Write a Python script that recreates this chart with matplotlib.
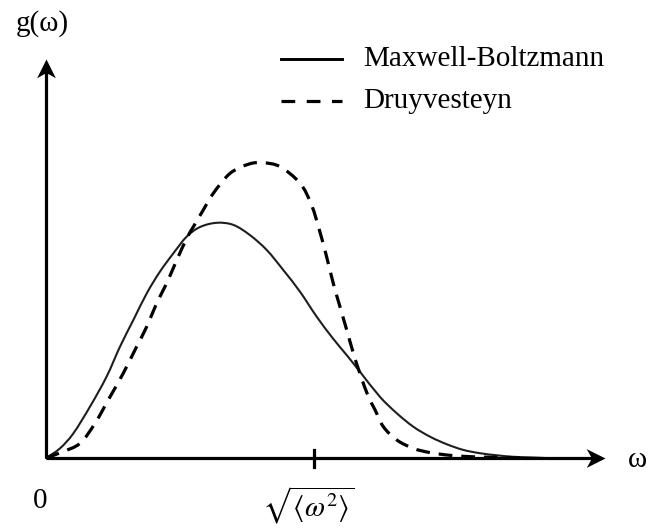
import matplotlib
matplotlib.use("Agg")
import numpy as np
import matplotlib.pyplot as plt
from matplotlib.path import Path
from matplotlib.patches import PathPatch

plt.rcParams['font.family'] = ['Liberation Serif', 'DejaVu Serif']
plt.rcParams['mathtext.fontset'] = 'stix'

# Speed in units of the rms speed, distribution in arbitrary units
mb_w = [0, 0.052, 0.102, 0.164, 0.226, 0.276, 0.326, 0.376, 0.425, 0.475,
        0.525, 0.575, 0.637, 0.699, 0.761, 0.824, 0.885, 0.948, 1.010, 1.072,
        1.122, 1.172, 1.246, 1.309, 1.371, 1.433, 1.495, 1.557, 1.619, 1.682,
        1.744, 1.806, 1.862]
mb_g = [0, 0.032, 0.082, 0.171, 0.271, 0.371, 0.460, 0.549, 0.621, 0.682,
        0.738, 0.770, 0.784, 0.777, 0.743, 0.693, 0.627, 0.554, 0.471, 0.397,
        0.343, 0.287, 0.204, 0.149, 0.104, 0.071, 0.046, 0.027, 0.016, 0.009,
        0.004, 0.002, 0]

dr_w = [0, 0.060, 0.127, 0.183, 0.239, 0.288, 0.338, 0.376, 0.413, 0.450,
        0.488, 0.525, 0.550, 0.587, 0.624, 0.687, 0.758, 0.811, 0.873, 0.948,
        0.991, 1.022, 1.047, 1.072, 1.097, 1.122, 1.147, 1.172, 1.203, 1.228,
        1.259, 1.309, 1.371, 1.433, 1.507, 1.594, 1.682, 1.769]
dr_g = [0, 0.020, 0.049, 0.116, 0.204, 0.282, 0.371, 0.438, 0.516, 0.582,
        0.660, 0.732, 0.771, 0.827, 0.882, 0.949, 0.980, 0.984, 0.971, 0.916,
        0.843, 0.754, 0.671, 0.582, 0.504, 0.427, 0.349, 0.280, 0.204, 0.160,
        0.104, 0.060, 0.032, 0.018, 0.009, 0.004, 0.002, 0]

series_names = ['Maxwell-Boltzmann', 'Druyvesteyn']
tick_pos = [1.0]
tick_labels = [r'$\sqrt{\langle\omega^2\rangle}$']


def smooth_path(xs, ys):
    """Cubic Bezier path passing through every point (Catmull-Rom tangents)."""
    pts = np.column_stack([xs, ys]).astype(float)
    n = len(pts)
    verts = [pts[0]]
    codes = [Path.MOVETO]
    for i in range(n - 1):
        p0 = pts[max(i - 1, 0)]
        p1 = pts[i]
        p2 = pts[i + 1]
        p3 = pts[min(i + 2, n - 1)]
        verts += [p1 + (p2 - p0) / 6, p2 - (p3 - p1) / 6, p2]
        codes += [Path.CURVE4] * 3
    return Path(verts, codes)


# Stealth-style arrowheads, tip at the marker origin
head_right = Path([(0, 0), (-1, 0.5), (-0.72, 0), (-1, -0.5), (0, 0)],
                  [Path.MOVETO, Path.LINETO, Path.LINETO, Path.LINETO, Path.CLOSEPOLY])
head_up = Path([(0, 0), (0.5, -1), (0, -0.72), (-0.5, -1), (0, 0)],
               [Path.MOVETO, Path.LINETO, Path.LINETO, Path.LINETO, Path.CLOSEPOLY])

fig = plt.figure(figsize=(6.48, 5.31), dpi=100)
ax = fig.add_axes([0, 0, 1, 1])
ax.set_xlim(-46 / 268, 602 / 268)
ax.set_ylim(-73 / 300, 458 / 300)
ax.axis('off')

fs = 21
axis_lw = 2.3

# Axes with arrowheads
x_end, y_end = 2.086, 1.330
ax.plot([0, x_end - 0.03], [0, 0], color='black', lw=axis_lw, solid_capstyle='butt')
ax.plot([0, 0], [0, y_end - 0.03], color='black', lw=axis_lw, solid_capstyle='butt')
ax.plot([x_end], [0], marker=head_right, markersize=27, color='black', mew=0)
ax.plot([0], [y_end], marker=head_up, markersize=27, color='black', mew=0)

# Curves
ax.add_patch(PathPatch(smooth_path(mb_w, mb_g), fill=False, edgecolor='#1e1e1e',
                       lw=1.5, capstyle='round', joinstyle='round'))
ax.add_patch(PathPatch(smooth_path(dr_w, dr_g), fill=False, edgecolor='black',
                       lw=2.3, linestyle=(0, (4.3, 2.8))))

# Tick mark and labels
for t, lab in zip(tick_pos, tick_labels):
    ax.plot([t, t], [-0.03, 0.027], color='black', lw=axis_lw)
    ax.text(t - 0.02, -0.088, lab, ha='center', va='top', fontsize=fs)
ax.text(-0.022, -0.143, '0', ha='center', va='center', fontsize=fs)
ax.text(2.17, -0.007, 'ω', ha='left', va='center', fontsize=fs)
ax.text(-0.015, 1.447, 'g(ω)', ha='center', va='center', fontsize=fs)

# Legend
ax.plot([0.877, 1.104], [1.33, 1.33], color='black', lw=2.1)
ax.plot([0.877, 1.104], [1.19, 1.19], color='black', lw=2.3, dashes=(4.3, 3.6))
ax.text(1.183, 1.33, series_names[0], ha='left', va='center', fontsize=fs)
ax.text(1.183, 1.19, series_names[1], ha='left', va='center', fontsize=fs)

fig.savefig('out.png', dpi=100)
